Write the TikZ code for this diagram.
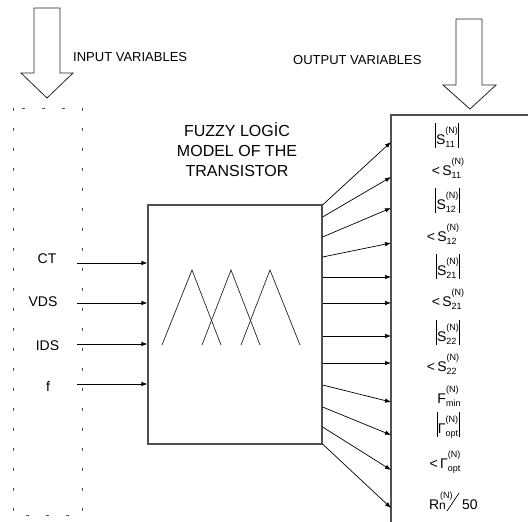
\documentclass[tikz,border=0pt]{standalone}
\usepackage{fontspec}
\setmainfont{Liberation Sans}
\usetikzlibrary{arrows.meta}
\definecolor{edge}{HTML}{505050}
\newcommand\subsz{\fontsize{9}{10}\selectfont}
\newlength\sslen
\newcommand\SubSup[2]{\setbox0=\hbox{\subsz #1}\setbox2=\hbox{\subsz #2}%
  \ifdim\wd0>\wd2 \sslen=\wd0 \else \sslen=\wd2 \fi
  \makebox[\sslen][l]{\rlap{\raisebox{-2.5pt}{\box0}}\raisebox{11pt}{\box2}}}
\newcommand\Bar{\vrule height 22pt depth 3pt width 0.7pt}
\newcommand\AbsV[1]{\Bar\hspace{0.5pt}#1\hspace{0.5pt}\Bar}
\tikzset{
  x=1pt, y=-1pt,
  edgeline/.style={draw=edge, line width=1.1pt},
  bigarrow/.style={draw=black!85, line width=0.8pt},
  inarrow/.style={draw=black, line width=0.8pt, -{Latex[length=6pt,width=4.5pt]}},
  outarrow/.style={draw=black, line width=0.7pt, -{Latex[length=6pt,width=4.5pt]}},
  memb/.style={draw=black!85, line width=0.7pt},
  inlabel/.style={font=\fontsize{14}{16}\selectfont, inner sep=0pt},
  outlabel/.style={font=\fontsize{14}{16}\selectfont, inner sep=0pt},
  headlabel/.style={font=\fontsize{13}{15}\selectfont, inner sep=0pt, anchor=west},
}
\begin{document}
\begin{tikzpicture}
\useasboundingbox (0,0) rectangle (528,522);
% big hollow arrows
\draw[bigarrow] (34,8) -- (60,8) -- (60,73) -- (73,73) -- (47,98) -- (21,73) -- (34,73) -- cycle;
\draw[bigarrow] (456,19) -- (482,19) -- (482,85) -- (496,85) -- (470,109) -- (443,85) -- (456,85) -- cycle;
\node[headlabel] (invar) at (73,57) {INPUT VARIABLES};
\node[headlabel] (outvar) at (293,60) {OUTPUT VARIABLES};
% dashed input column
\draw[draw=edge, line width=0.9pt, dash pattern=on 3pt off 17pt] (13,108) rectangle (82,515);
% main box
\node[edgeline, minimum width=174pt, minimum height=239pt, inner sep=0pt] (box) at (235,324.5) {};
\node[font=\fontsize{16}{20}\selectfont, align=center, inner sep=0pt, anchor=south] (title) at (237,177) {FUZZY LOGİC\\MODEL OF THE\\TRANSISTOR};
% membership functions
\draw[memb] (162,345) -- (192,270) -- (221,345);
\draw[memb] (202,345) -- (231,270) -- (260,345);
\draw[memb] (241,345) -- (270,270) -- (300,345);
% inputs
\node[inlabel] (ct) at (47,259) {CT};
\node[inlabel] (vds) at (43,302) {VDS};
\node[inlabel] (ids) at (47.5,346) {IDS};
\node[inlabel] (f) at (48,386) {f};
\foreach \n/\yy in {ct/263, vds/303, ids/344, f/384} {
  \coordinate (s\n) at (77,\yy);
  \draw[inarrow] (s\n) -- (s\n -| box.west);
}
% output column
\coordinate (ob) at (391,115);
\draw[edgeline] (528,115) -- (ob) -- (391,522);
\foreach \sy/\ey in {205/142, 217/177, 237/208, 257/243, 277/277, 303/303, 336/336, 363/363, 385/402, 407/435, 427/470, 444/508}
  \draw[outarrow] (box.east |- 0,\sy) -- (ob |- 0,\ey);
% output labels
\node[outlabel] (o1) at (447,135) {\AbsV{S\SubSup{11}{(N)}}};
\node[outlabel] (o2) at (448,168) {<\,S\SubSup{11}{(N)}};
\node[outlabel] (o3) at (447.5,200) {\AbsV{S\SubSup{12}{(N)}}};
\node[outlabel] (o4) at (443,234) {<\,S\SubSup{12}{(N)}};
\node[outlabel] (o5) at (448,266) {\AbsV{S\SubSup{21}{(N)}}};
\node[outlabel] (o6) at (448,299) {<\,S\SubSup{21}{(N)}};
\node[outlabel] (o7) at (448,332) {\AbsV{S\SubSup{22}{(N)}}};
\node[outlabel] (o8) at (443,364) {<\,S\SubSup{22}{(N)}};
\node[outlabel] (o9) at (449,396) {F\SubSup{min}{(N)}};
\node[outlabel] (o10) at (448,425) {\AbsV{Γ\SubSup{opt}{(N)}}};
\node[outlabel] (o11) at (445,462) {<\,Γ\SubSup{opt}{(N)}};
\node[outlabel, anchor=base east] (o12) at (446,509) {R\makebox[0pt][l]{\raisebox{11pt}{\subsz\hspace{1pt}(N)}}{\fontsize{12}{14}\selectfont n}};
\node[outlabel, anchor=base west] (fifty) at (462,509) {50};
\coordinate (sl1) at (447,511);
\coordinate (sl2) at (459,493);
\draw[line width=0.7pt] (sl1) -- (sl2);
\end{tikzpicture}
\end{document}
